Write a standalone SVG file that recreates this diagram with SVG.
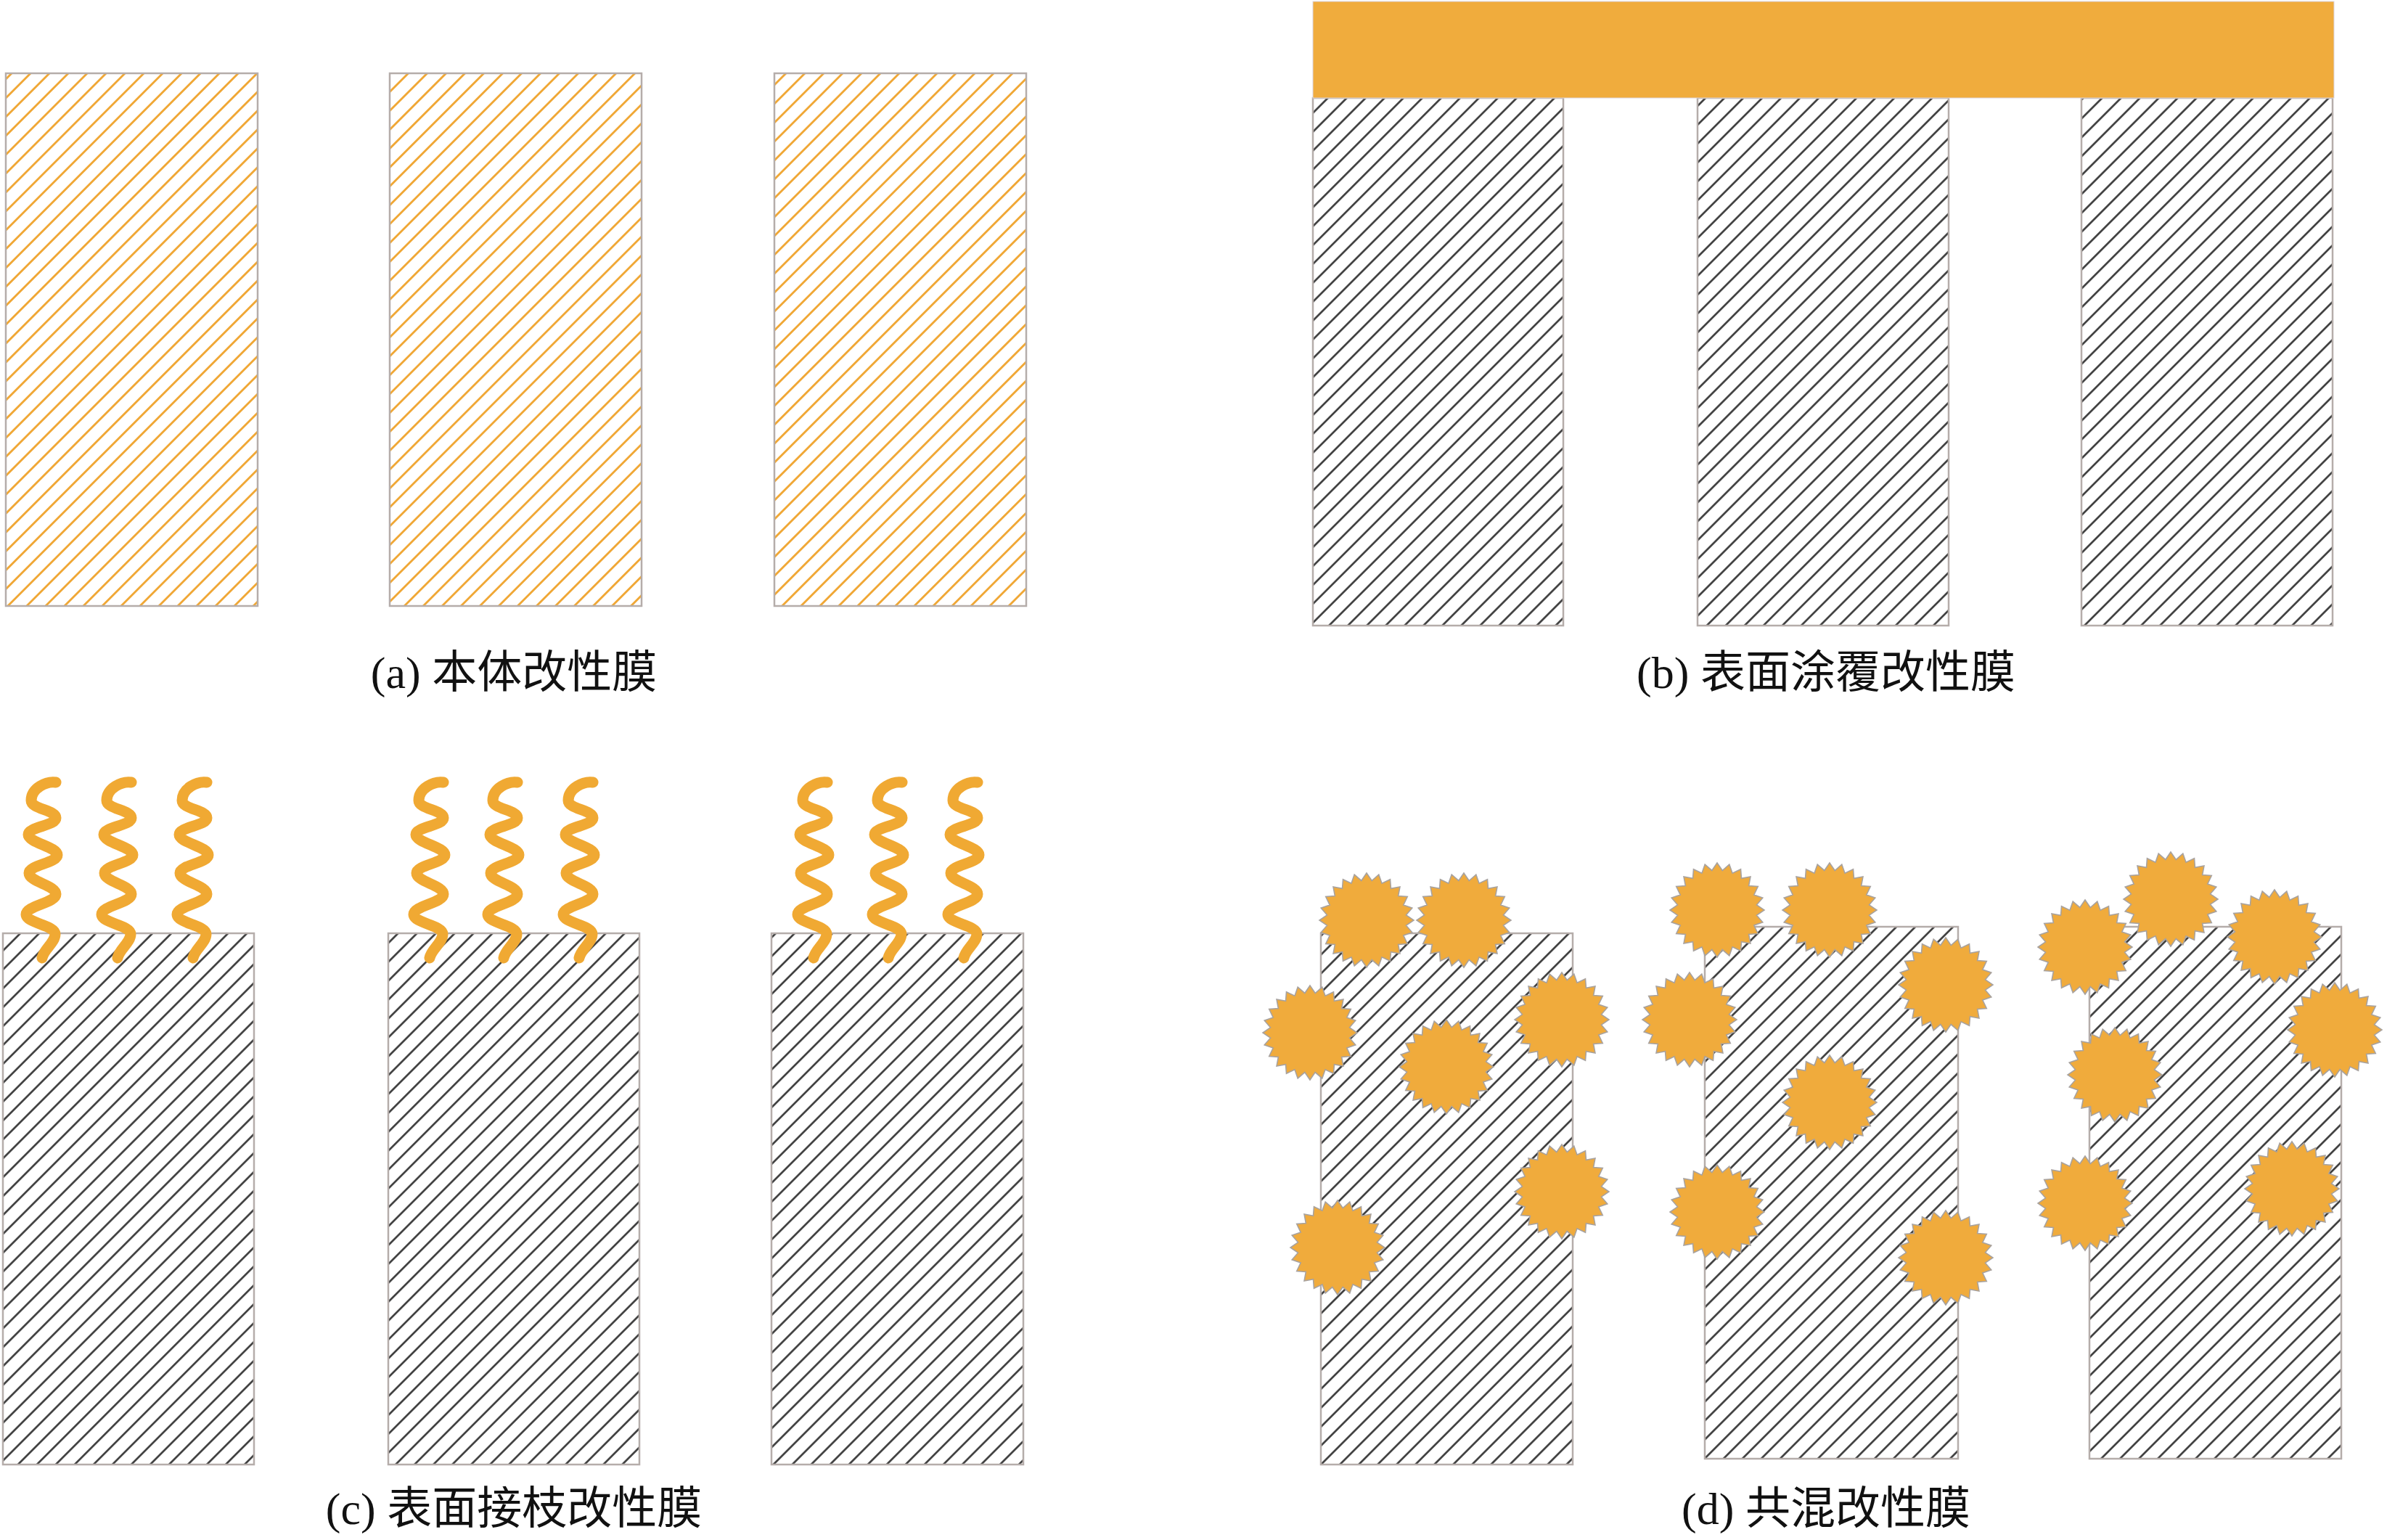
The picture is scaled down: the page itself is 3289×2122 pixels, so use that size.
<svg xmlns="http://www.w3.org/2000/svg" xmlns:xlink="http://www.w3.org/1999/xlink" width="3289" height="2122" viewBox="0 0 3289 2122">
<style>
.mem{stroke:#b5adaa;stroke-width:2.5}
.mo{fill:url(#hatchO)}
.mk{fill:url(#hatchK)}
.wave{fill:none;stroke:#F0A933;stroke-width:15;stroke-linecap:round;stroke-linejoin:round}
.star{fill:#F0AB3C;stroke:#a8a29e;stroke-width:1.6}
.lbl{font-family:"Liberation Serif","Noto Sans CJK SC",serif;font-size:62px;fill:#111;text-anchor:middle}
</style>
<defs>
<pattern id="hatchO" patternUnits="userSpaceOnUse" width="18.4" height="18.4" patternTransform="rotate(-45)">
<rect width="18.4" height="18.4" fill="#fff"/>
<line x1="-1" y1="9.2" x2="19.4" y2="9.2" stroke="#F0A530" stroke-width="2.8"/>
</pattern>
<pattern id="hatchK" patternUnits="userSpaceOnUse" width="18.4" height="18.4" patternTransform="rotate(-45)">
<rect width="18.4" height="18.4" fill="#fff"/>
<line x1="-1" y1="9.2" x2="19.4" y2="9.2" stroke="#2f2f2f" stroke-width="2.5"/>
</pattern>
<path id="wave" class="wave" d="M19,0 C6,-2 -15,8 -15,25 C-15,37 19,38 19,49 C19,60 -19,61 -19,72 C-19,83 21,89 21,100 C21,111 -18,114 -18,125 C-18,137 19,142 19,154 C19,166 -22,170 -22,182 C-22,194 18,197 18,209 C18,221 2,230 0,242"/>
<polygon id="star" class="star" points="0,-65 7.2,-54.5 16.8,-62.8 21.05,-50.81 32.5,-56.29 33.48,-43.63 45.96,-45.96 43.63,-33.48 56.29,-32.5 50.81,-21.05 62.79,-16.82 54.53,-7.18 65,0 54.53,7.18 62.79,16.82 50.81,21.05 56.29,32.5 43.63,33.48 45.96,45.96 33.48,43.63 32.5,56.29 21.05,50.81 16.82,62.79 7.18,54.53 0,65 -7.18,54.53 -16.82,62.79 -21.05,50.81 -32.5,56.29 -33.48,43.63 -45.96,45.96 -43.63,33.48 -56.29,32.5 -50.81,21.05 -62.79,16.82 -54.53,7.18 -65,0 -54.53,-7.18 -62.79,-16.82 -50.81,-21.05 -56.29,-32.5 -43.63,-33.48 -45.96,-45.96 -33.48,-43.63 -32.5,-56.29 -21.05,-50.81 -16.82,-62.79 -7.18,-54.53"/>
</defs>
<rect width="3289" height="2122" fill="#fff"/>

<g id="panel-a">
<rect id="a1" class="mem mo" x="8" y="101" width="347" height="734"/>
<rect id="a2" class="mem mo" x="537" y="101" width="347" height="734"/>
<rect id="a3" class="mem mo" x="1067" y="101" width="347" height="734"/>
<text id="label-a" class="lbl" x="708" y="948">(a) 本体改性膜</text>
</g>

<g id="panel-b">
<rect id="b1" class="mem mk" x="1809" y="135" width="345" height="727"/>
<rect id="b2" class="mem mk" x="2339" y="135" width="346" height="727"/>
<rect id="b3" class="mem mk" x="2868" y="135" width="346" height="727"/>
<rect id="b-coating" x="1809" y="2" width="1407" height="133" fill="#F0AC3D" stroke="#dcd6e0" stroke-width="1"/>
<text id="label-b" class="lbl" x="2516" y="948">(b) 表面涂覆改性膜</text>
</g>

<g id="panel-c">
<rect id="c1" class="mem mk" x="4" y="1286" width="346" height="732"/>
<rect id="c2" class="mem mk" x="535" y="1286" width="346" height="732"/>
<rect id="c3" class="mem mk" x="1063" y="1286" width="347" height="732"/>
<g id="c-chains">
<use xlink:href="#wave" x="58" y="1078"/>
<use xlink:href="#wave" x="162" y="1078"/>
<use xlink:href="#wave" x="266" y="1078"/>
<use xlink:href="#wave" x="592" y="1078"/>
<use xlink:href="#wave" x="694" y="1078"/>
<use xlink:href="#wave" x="798" y="1078"/>
<use xlink:href="#wave" x="1121" y="1078"/>
<use xlink:href="#wave" x="1224" y="1078"/>
<use xlink:href="#wave" x="1328" y="1078"/>
</g>
<text id="label-c" class="lbl" x="708" y="2100">(c) 表面接枝改性膜</text>
</g>

<g id="panel-d">
<rect id="d1" class="mem mk" x="1820" y="1286" width="347" height="732"/>
<rect id="d2" class="mem mk" x="2349" y="1277" width="349" height="733"/>
<rect id="d3" class="mem mk" x="2879" y="1277" width="347" height="733"/>
<g id="d-particles">
<use xlink:href="#star" x="1883" y="1268"/>
<use xlink:href="#star" x="2017" y="1268"/>
<use xlink:href="#star" x="1805" y="1423"/>
<use xlink:href="#star" x="1993" y="1470"/>
<use xlink:href="#star" x="2152" y="1405"/>
<use xlink:href="#star" x="2152" y="1642"/>
<use xlink:href="#star" x="1843" y="1719"/>
<use xlink:href="#star" x="2366" y="1254"/>
<use xlink:href="#star" x="2521" y="1254"/>
<use xlink:href="#star" x="2681" y="1357"/>
<use xlink:href="#star" x="2328" y="1405"/>
<use xlink:href="#star" x="2521" y="1519"/>
<use xlink:href="#star" x="2366" y="1670"/>
<use xlink:href="#star" x="2681" y="1733"/>
<use xlink:href="#star" x="2991" y="1239"/>
<use xlink:href="#star" x="2873" y="1305"/>
<use xlink:href="#star" x="3134" y="1291"/>
<use xlink:href="#star" x="3217" y="1419"/>
<use xlink:href="#star" x="2914" y="1481"/>
<use xlink:href="#star" x="2873" y="1658"/>
<use xlink:href="#star" x="3158" y="1638"/>
</g>
<text id="label-d" class="lbl" x="2516" y="2100">(d) 共混改性膜</text>
</g>
<g id="connectors"/>
</svg>
